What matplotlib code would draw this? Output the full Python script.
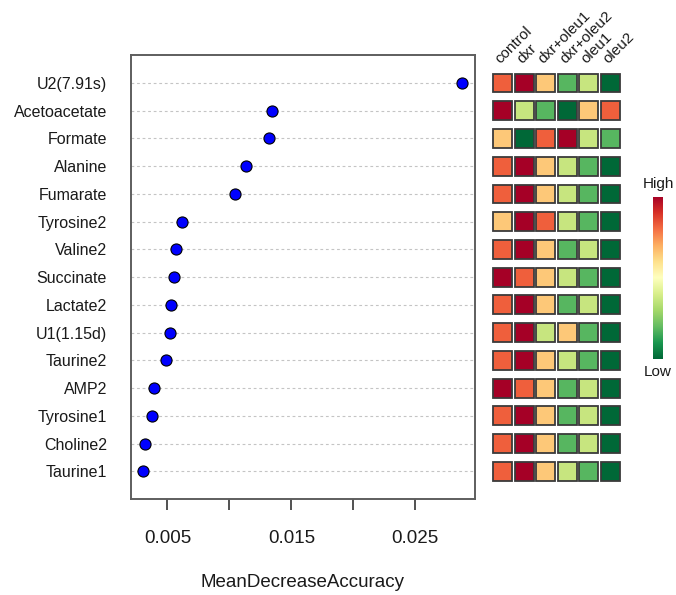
import matplotlib
matplotlib.use("Agg")
import matplotlib.pyplot as plt
from matplotlib.patches import Rectangle
import numpy as np

plt.rcParams['font.family'] = ['Liberation Sans', 'DejaVu Sans']

# features, top to bottom
features = ["U2(7.91s)", "Acetoacetate", "Formate", "Alanine", "Fumarate",
            "Tyrosine2", "Valine2", "Succinate", "Lactate2", "U1(1.15d)",
            "Taurine2", "AMP2", "Tyrosine1", "Choline2", "Taurine1"]
mda = [0.02879, 0.01347, 0.01323, 0.01137, 0.01048,
       0.00621, 0.00565, 0.00556, 0.00527, 0.00524,
       0.00492, 0.00393, 0.00377, 0.00315, 0.00306]

groups = ["control", "dxr", "dxr+oleu1", "dxr+oleu2", "oleu1", "oleu2"]
# rank of each group mean within a feature (0 = lowest, 5 = highest)
ranks = [
    [4, 5, 3, 1, 2, 0],
    [5, 2, 1, 0, 3, 4],
    [3, 0, 4, 5, 2, 1],
    [4, 5, 3, 2, 1, 0],
    [4, 5, 3, 2, 1, 0],
    [3, 5, 4, 2, 1, 0],
    [4, 5, 3, 1, 2, 0],
    [5, 4, 3, 2, 1, 0],
    [4, 5, 3, 1, 2, 0],
    [4, 5, 2, 3, 1, 0],
    [4, 5, 3, 2, 1, 0],
    [5, 4, 3, 1, 2, 0],
    [4, 5, 3, 1, 2, 0],
    [4, 5, 3, 1, 2, 0],
    [4, 5, 3, 2, 1, 0],
]
palette = ["#006837", "#57b660", "#c7e57f", "#fdc878", "#ef5f3c", "#a50026"]

W, H = 676, 595
fig = plt.figure(figsize=(W / 100, H / 100), dpi=100)

def px_axes(x0, y0, x1, y1):
    return fig.add_axes([x0 / W, 1 - y1 / H, (x1 - x0) / W, (y1 - y0) / H])

n = len(features)
ypos = np.arange(n, 0, -1)

# dot chart
ax = px_axes(130.7, 55.3, 475, 499)
for y in ypos:
    ax.axhline(y, color="#c4c4c4", lw=0.8, ls=(0, (2.5, 2.5)), zorder=1)
ax.plot(mda, ypos, "o", ms=8, mfc="#0000ff", mec="black", mew=0.8, zorder=3)
rng = max(mda) - min(mda)
ax.set_xlim(min(mda) - 0.04 * rng, max(mda) + 0.04 * rng)
ax.set_ylim(0, n + 1)
ax.set_yticks(ypos)
ax.set_yticklabels(features, fontsize=11.5, color="#1a1a1a")
ax.tick_params(axis="y", length=0, pad=17)
ax.set_xticks([0.005, 0.010, 0.015, 0.020, 0.025])
ax.set_xticklabels(["0.005", "", "0.015", "", "0.025"], fontsize=13.5, color="#1a1a1a")
ax.tick_params(axis="x", length=8, width=1.1, color="#222222", pad=14)
ax.set_xlabel("MeanDecreaseAccuracy", fontsize=13.5, color="#1a1a1a", labelpad=20)
for s in ax.spines.values():
    s.set_color("#5e5e5e")
    s.set_linewidth(1.4)

# rank heatmap
hx = px_axes(492, 55.3, 621, 499)
hx.set_xlim(0, len(groups))
hx.set_ylim(0, n + 1)
hx.axis("off")
bw, bh = 0.88, 0.68
for row, y in zip(ranks, ypos):
    for j, r in enumerate(row):
        hx.add_patch(Rectangle((j + 0.5 - bw / 2, y - bh / 2), bw, bh,
                               facecolor=palette[r], edgecolor="#3a3a3a", lw=1.3))
for j, g in enumerate(groups):
    hx.text(j + 0.5, n + 0.6, g, rotation=45, rotation_mode="anchor",
            ha="left", va="bottom", fontsize=11, color="#1a1a1a", clip_on=False)

# colour key
cx = px_axes(653, 197, 663, 359)
grad = np.linspace(1, 0, 256).reshape(-1, 1)
cx.imshow(grad, aspect="auto", cmap="RdYlGn_r", extent=(0, 1, 0, 1))
cx.axis("off")
cx.text(0.5, 1.04, "High", transform=cx.transAxes, ha="center", va="bottom",
        fontsize=11, color="#1a1a1a")
cx.text(0.5, -0.04, "Low", transform=cx.transAxes, ha="center", va="top",
        fontsize=11, color="#1a1a1a")

fig.savefig("out.png", dpi=100)
